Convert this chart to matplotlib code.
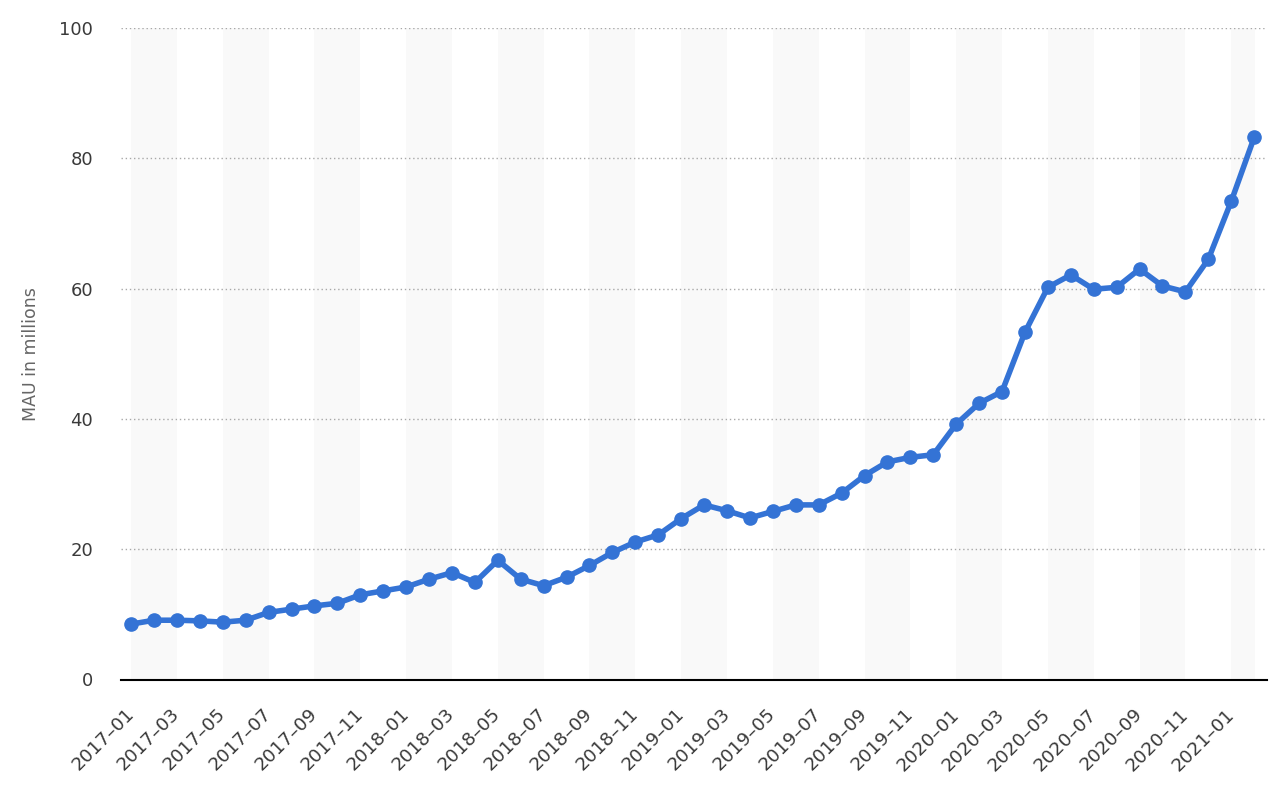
import matplotlib
matplotlib.use("Agg")
import matplotlib.pyplot as plt
import numpy as np

months = [f"{y}-{m:02d}" for y in range(2017, 2022) for m in range(1, 13)][:50]
mau = [8.5, 9.1, 9.1, 9.0, 8.8, 9.1, 10.3, 10.8, 11.3, 11.7,
       13.0, 13.6, 14.2, 15.4, 16.4, 14.9, 18.3, 15.4, 14.4, 15.7,
       17.5, 19.5, 21.1, 22.2, 24.7, 26.8, 25.9, 24.8, 25.8, 26.8,
       26.8, 28.6, 31.3, 33.4, 34.1, 34.5, 39.2, 42.4, 44.2, 53.3,
       60.2, 62.1, 59.9, 60.2, 63.0, 60.4, 59.5, 64.5, 73.4, 83.2]
tick_labels = [m.replace("-", "–") for m in months]
y_ticks = [0, 20, 40, 60, 80, 100]

fig = plt.figure(figsize=(12.8, 7.87), dpi=100)
ax = fig.add_axes([121/1280, 1-679.5/787, (1267-121)/1280, (679.5-28)/787])

x = np.arange(len(mau))
n = len(mau)
for i in range(0, n, 4):
    ax.axvspan(i, min(i + 2, n - 1 + 0.05), color="#f9f9f9", lw=0, zorder=0)

for yv in y_ticks[1:]:
    ax.axhline(yv, color="#a8a8a8", lw=1, ls=(0, (1, 2)), zorder=1)

ax.plot(x, mau, color="#3473d5", lw=4, marker="o", markersize=9.5,
        solid_capstyle="round", zorder=3)

ax.set_xlim(-0.44, 49.56)
ax.set_ylim(0, 100)
ax.set_yticks(y_ticks)
ax.set_yticklabels([str(v) for v in y_ticks], fontsize=13, color="#3a3a3a")
ax.set_xticks(x[::2])
ax.set_xticklabels(tick_labels[::2], rotation=45, ha="right", va="center",
                   rotation_mode="anchor", fontsize=13.3, color="#3a3a3a")
ax.tick_params(axis="y", length=0, pad=20)
ax.tick_params(axis="x", length=0, pad=23)
for s in ["top", "right", "left"]:
    ax.spines[s].set_visible(False)
ax.spines["bottom"].set_color("#000000")
ax.spines["bottom"].set_linewidth(1.5)
ax.spines["bottom"].set_zorder(4)
ax.set_ylabel("MAU in millions", fontsize=12.5, color="#666666", labelpad=14)

fig.savefig("out.png", dpi=100)
